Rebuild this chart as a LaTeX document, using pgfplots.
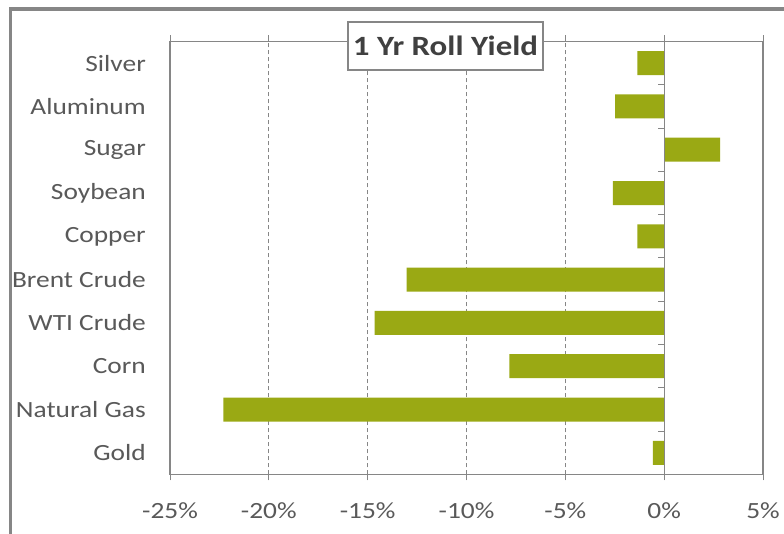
\documentclass[border=0pt]{standalone}
\usepackage{pgfplots}
\pgfplotsset{compat=1.18}
\usepackage{fontspec}
\setmainfont[FakeStretch=1.18]{Carlito}
\definecolor{barc}{HTML}{9AA914}
\definecolor{txt}{HTML}{595959}
\definecolor{ttl}{HTML}{404040}
\definecolor{ax}{HTML}{868686}
\begin{document}
\begin{tikzpicture}[x=1bp,y=1bp]
\useasboundingbox (0,0) rectangle (784,534);
\fill[white] (0,0) rectangle (784,534);
\draw[ax, line width=3.5bp] (10.5,-20) -- (10.5,525) -- (820,525);
\begin{axis}[
  at={(170bp,59.5bp)}, anchor=south west,
  scale only axis, width=593bp, height=433bp,
  xmin=-25, xmax=5, ymin=0.5, ymax=10.5,
  xbar, bar width=24bp,
  xtick={-25,-20,-15,-10,-5,0,5},
  xticklabels={-25\%,-20\%,-15\%,-10\%,-5\%,0\%,5\%},
  ytick={1,...,10},
  yticklabels={Gold,Natural Gas,Corn,WTI Crude,Brent Crude,Copper,Soybean,Sugar,Aluminum,Silver},
  tick label style={font=\fontsize{23.3}{27}\selectfont, text=txt},
  xticklabel style={anchor=north, inner sep=0pt, yshift=-22bp},
  yticklabel style={anchor=east, inner sep=0pt, xshift=-18bp},
  axis line style={ax, line width=1.2bp},
  xmajorgrids,
  major grid style={ax, dashed, dash pattern=on 4bp off 3bp, line width=0.8bp},
  tick align=outside, major tick length=6bp,
  x tick style={ax, line width=1bp},
  y tick style={draw=none},
]
\addplot[fill=barc, draw=none] coordinates {
  (-0.57,1) (-22.3,2) (-7.83,3) (-14.65,4) (-13.03,5)
  (-1.36,6) (-2.6,7) (2.83,8) (-2.48,9) (-1.36,10)};
\draw[ax, line width=1.2bp] (axis cs:0,0.5) -- (axis cs:0,10.5);
\pgfplotsinvokeforeach{1.5,2.5,3.5,4.5,5.5,6.5,7.5,8.5,9.5}{
  \draw[ax, line width=1bp] (axis cs:0,#1) -- ([xshift=-6bp]axis cs:0,#1);
}
\end{axis}
\node[draw=ax, line width=1.5bp, fill=white, minimum width=195bp, minimum height=48bp,
  inner sep=0pt, text=ttl, font=\fontsize{28}{32}\selectfont\bfseries] at (445.5,488) {1 Yr Roll Yield};
\end{tikzpicture}
\end{document}
